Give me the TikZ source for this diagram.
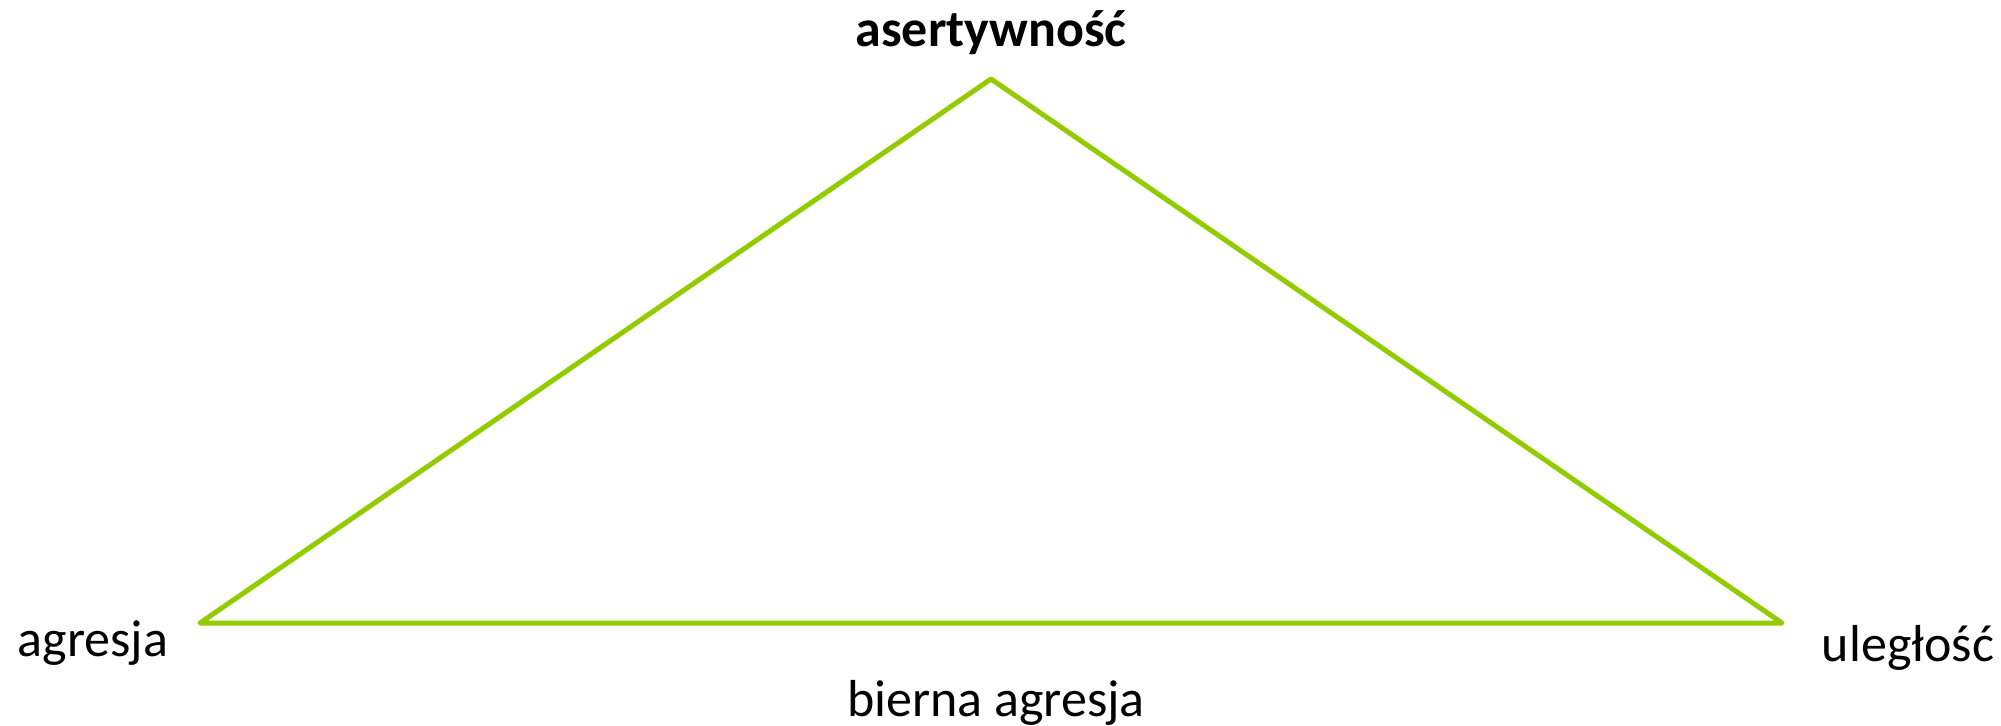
\documentclass[tikz,border=0pt]{standalone}
\usepackage{fontspec}
\setmainfont{Carlito}
\definecolor{tri}{RGB}{146,204,0}
\begin{document}
\begin{tikzpicture}[x=1pt,y=-1pt,
  lbl/.style={inner sep=0pt,anchor=base,font=\fontsize{52}{60}\selectfont},
  edge/.style={draw=tri,line width=5pt,line join=round,line cap=round}]
\useasboundingbox (0,0) rectangle (2001,725);
\coordinate (T) at (991,79);
\coordinate (L) at (200,623);
\coordinate (R) at (1782,623);
\draw[edge] (T) -- (L) -- (R) -- cycle;
\node[lbl,font=\fontsize{52}{60}\selectfont\bfseries] (top) at (991,47) {asertywność};
\node[lbl] (agr) at (93,656) {agresja};
\node[lbl] (ul) at (1908,661) {uległość};
\node[lbl] (bier) at (996,716) {bierna agresja};
\end{tikzpicture}
\end{document}
